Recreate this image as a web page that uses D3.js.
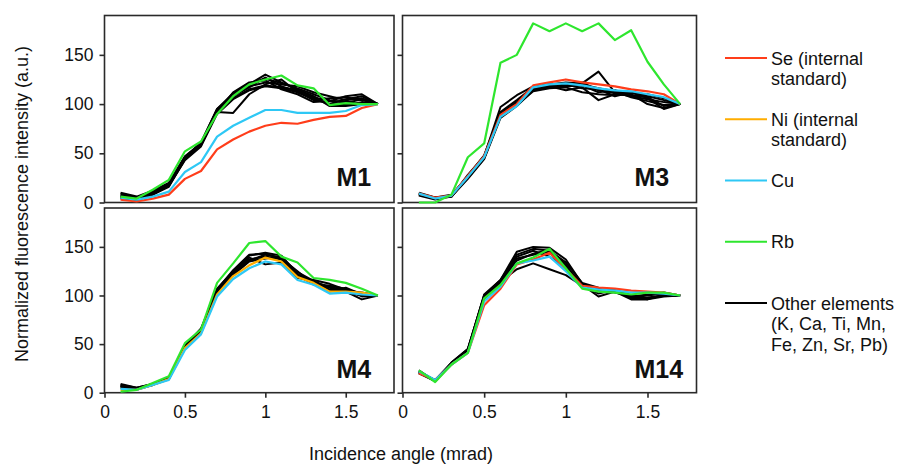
<!DOCTYPE html>
<html>
<head>
<meta charset="utf-8">
<script src="https://cdn.jsdelivr.net/npm/d3@7"></script>
<style>
  body { margin: 0; background: #fff; }
  text { font-family: "Liberation Sans", Arial, sans-serif; fill: #111; }
</style>
</head>
<body>
<svg id="chart" width="899" height="464"></svg>
<script>
// incidence angle (mrad), same for every panel
const angles = [0.1, 0.2, 0.3, 0.4, 0.5, 0.6, 0.7, 0.8, 0.9, 1.0, 1.1, 1.2, 1.3, 1.4, 1.5, 1.6, 1.7];
const xTicks = [0, 0.5, 1, 1.5];
const yTicks = [0, 50, 100, 150];

// M1
const m1Se = [3, 1, 4, 8, 24, 32, 54, 64, 72, 78, 81, 80, 84, 87, 88, 96, 100];
const m1Cu = [5, 3, 6, 11, 31, 41, 67, 78, 86, 94, 94, 91, 91, 91, 93, 99, 100];
const m1Rb = [6, 4, 13, 23, 52, 62, 90, 108, 120, 125, 129, 119, 116, 99, 101, 100, 100];
const m1Others = [
  [10, 6, 12, 20, 47, 60, 94, 110, 120, 130, 122, 115, 108, 98, 98, 100, 100],
  [8, 5, 10, 18, 45, 59, 92, 91, 110, 120, 125, 112, 105, 100, 105, 108, 100],
  [6, 4, 9, 17, 44, 58, 93, 108, 117, 127, 118, 113, 104, 106, 107, 104, 100],
  [5, 3, 8, 16, 44, 58, 92, 112, 122, 124, 115, 110, 102, 103, 103, 99, 100],
  [7, 4, 11, 19, 46, 60, 95, 109, 118, 122, 120, 118, 112, 108, 104, 106, 100],
  [9, 5, 10, 18, 45, 59, 93, 106, 115, 119, 117, 114, 107, 103, 108, 110, 100],
  [4, 2, 8, 17, 43, 57, 90, 105, 114, 118, 116, 112, 106, 100, 99, 102, 100],
  [6, 4, 11, 18, 46, 61, 95, 111, 121, 126, 121, 116, 110, 104, 101, 105, 100]
];

// M3
const m3Se = [9, 5, 7, 27, 47, 89, 100, 119, 122, 125, 122, 120, 118, 115, 113, 110, 100];
const m3Cu = [9, 4, 7, 26, 46, 87, 98, 117, 120, 121, 119, 116, 114, 113, 110, 107, 100];
const m3Rb = [0, 0, 8, 46, 60, 142, 150, 182, 174, 182, 174, 182, 165, 175, 143, 120, 100];
const m3Others = [
  [8, 5, 6, 28, 47, 97, 109, 118, 120, 122, 121, 133, 112, 112, 108, 104, 100],
  [9, 4, 7, 25, 45, 88, 100, 116, 118, 114, 117, 104, 110, 109, 107, 98, 100],
  [10, 5, 6, 26, 46, 90, 102, 115, 119, 118, 119, 112, 114, 110, 100, 96, 100],
  [7, 3, 6, 24, 44, 86, 98, 114, 117, 120, 116, 115, 108, 112, 106, 95, 100],
  [9, 4, 7, 27, 48, 92, 104, 117, 121, 119, 122, 114, 111, 108, 105, 102, 100],
  [8, 5, 8, 26, 46, 89, 99, 113, 116, 117, 112, 110, 109, 111, 110, 106, 100],
  [9, 4, 7, 25, 45, 88, 101, 116, 118, 118, 120, 116, 113, 107, 103, 99, 100]
];

// M4
const m4Ni = [3, 3, 8, 14, 46, 61, 101, 120, 131, 139, 135, 119, 113, 104, 104, 103, 100];
const m4Cu = [4, 3, 8, 13, 44, 60, 99, 117, 128, 135, 132, 116, 111, 102, 103, 101, 100];
const m4Rb = [1, 3, 10, 17, 51, 65, 113, 133, 154, 156, 140, 134, 118, 116, 113, 107, 100];
const m4Others = [
  [9, 5, 9, 15, 47, 64, 107, 125, 141, 144, 141, 122, 114, 106, 104, 96, 100],
  [7, 4, 8, 14, 46, 63, 104, 123, 137, 140, 137, 120, 112, 110, 107, 99, 100],
  [6, 4, 9, 15, 48, 66, 106, 124, 139, 132, 134, 118, 116, 112, 106, 102, 100],
  [8, 5, 9, 14, 47, 64, 105, 122, 136, 142, 139, 124, 115, 108, 103, 100, 100],
  [5, 3, 8, 14, 46, 62, 103, 121, 135, 138, 140, 121, 113, 104, 108, 101, 100],
  [7, 4, 9, 15, 47, 65, 106, 126, 142, 143, 138, 125, 111, 109, 105, 103, 100]
];

// M14
const m14Se = [20, 13, 29, 41, 90, 107, 132, 137, 144, 127, 110, 108, 107, 105, 104, 103, 100];
const m14Cu = [22, 13, 29, 41, 94, 109, 133, 136, 140, 125, 108, 106, 105, 103, 103, 102, 100];
const m14Rb = [23, 11, 29, 41, 97, 111, 133, 139, 148, 128, 107, 104, 103, 101, 103, 103, 100];
const m14Others = [
  [21, 12, 30, 44, 101, 116, 145, 150, 149, 137, 112, 106, 105, 99, 96, 99, 100],
  [22, 13, 31, 45, 100, 115, 142, 148, 146, 134, 113, 108, 106, 100, 97, 100, 100],
  [20, 12, 29, 43, 98, 114, 127, 133, 127, 121, 110, 102, 106, 98, 100, 102, 100],
  [23, 12, 30, 42, 99, 114, 138, 142, 145, 130, 111, 99, 104, 96, 96, 101, 100],
  [21, 13, 30, 44, 97, 113, 136, 143, 147, 132, 109, 105, 103, 99, 101, 103, 100],
  [22, 12, 31, 45, 100, 116, 140, 146, 140, 128, 112, 107, 105, 97, 98, 100, 100]
];

const colors = { Se: '#ff3d1a', Ni: '#ffad00', Cu: '#2ec8f5', Rb: '#2ee62e', Other: '#000000' };

const legendItems = [
  { key: 'Se', lines: ['Se (internal', 'standard)'] },
  { key: 'Ni', lines: ['Ni (internal', 'standard)'] },
  { key: 'Cu', lines: ['Cu'] },
  { key: 'Rb', lines: ['Rb'] },
  { key: 'Other', lines: ['Other elements', '(K, Ca, Ti, Mn,', 'Fe, Zn, Sr, Pb)'] }
];

const panels = [
  { name: 'M1', col: 0, row: 0, others: m1Others, series: [['Se', m1Se], ['Cu', m1Cu], ['Rb', m1Rb]] },
  { name: 'M3', col: 1, row: 0, others: m3Others, series: [['Se', m3Se], ['Cu', m3Cu], ['Rb', m3Rb]] },
  { name: 'M4', col: 0, row: 1, others: m4Others, series: [['Ni', m4Ni], ['Cu', m4Cu], ['Rb', m4Rb]] },
  { name: 'M14', col: 1, row: 1, others: m14Others, series: [['Se', m14Se], ['Cu', m14Cu], ['Rb', m14Rb]] }
];

const svg = d3.select('#chart');

// panel boxes in pixels
const cols = [[104.5, 394], [402.5, 696.5]];
const rows = [[15.5, 202.5], [208, 392.7]];

panels.forEach(p => {
  const [x0, x1] = cols[p.col];
  const [y0, y1] = rows[p.row];
  const x = d3.scaleLinear().domain([0, 1.8]).range([x0, x1]);
  const y = d3.scaleLinear().domain([0, 190]).range([y1, y0]);
  const g = svg.append('g');

  // frame
  g.append('rect')
    .attr('x', x0).attr('y', y0)
    .attr('width', x1 - x0).attr('height', y1 - y0)
    .attr('fill', 'none')
    .attr('stroke', '#2a2a2a')
    .attr('stroke-width', 1.6);

  // y axis, labels only on the left column
  const yAxis = d3.axisLeft(y).tickValues(yTicks).tickSize(5).tickPadding(6)
    .tickFormat(p.col === 0 ? d3.format('d') : '');
  const ya = g.append('g').attr('transform', `translate(${x0},0)`).call(yAxis);
  ya.select('.domain').remove();
  ya.selectAll('line').attr('stroke', '#2a2a2a').attr('stroke-width', 1.6);
  ya.selectAll('text').attr('font-size', 17.5).attr('fill', '#111')
    .attr('font-family', '"Liberation Sans", Arial, sans-serif');

  // x axis only on the bottom row
  if (p.row === 1) {
    const xAxis = d3.axisBottom(x).tickValues(xTicks).tickSize(5).tickPadding(8)
      .tickFormat(d3.format('~g'));
    const xa = g.append('g').attr('transform', `translate(0,${y1})`).call(xAxis);
    xa.select('.domain').remove();
    xa.selectAll('line').attr('stroke', '#2a2a2a').attr('stroke-width', 1.6);
    xa.selectAll('text').attr('font-size', 17.5).attr('fill', '#111')
      .attr('font-family', '"Liberation Sans", Arial, sans-serif');
  }

  const line = d3.line()
    .x((d, i) => x(angles[i]))
    .y(d => y(d));

  g.selectAll('path.other')
    .data(p.others)
    .join('path')
    .attr('class', 'other')
    .attr('d', line)
    .attr('fill', 'none')
    .attr('stroke', colors.Other)
    .attr('stroke-width', 2)
    .attr('stroke-linejoin', 'round');

  g.selectAll('path.elem')
    .data(p.series)
    .join('path')
    .attr('class', 'elem')
    .attr('d', d => line(d[1]))
    .attr('fill', 'none')
    .attr('stroke', d => colors[d[0]])
    .attr('stroke-width', 2.2)
    .attr('stroke-linejoin', 'round');

  g.append('text')
    .attr('x', x0 + 232)
    .attr('y', p.row === 0 ? 186 : 378)
    .attr('font-size', 25)
    .attr('font-weight', 'bold')
    .text(p.name);
});

// axis titles
svg.append('text')
  .attr('x', 401).attr('y', 460)
  .attr('text-anchor', 'middle')
  .attr('font-size', 18)
  .text('Incidence angle (mrad)');

svg.append('text')
  .attr('transform', 'translate(28,204) rotate(-90)')
  .attr('text-anchor', 'middle')
  .attr('font-size', 18)
  .text('Normalized fluorescence intensity (a.u.)');

// legend
const legendY = d3.scalePoint().domain(legendItems.map(d => d.key)).range([58, 303]);
const lg = svg.append('g');
legendItems.forEach(item => {
  const ly = legendY(item.key);
  lg.append('line')
    .attr('x1', 725).attr('x2', 767)
    .attr('y1', ly).attr('y2', ly)
    .attr('stroke', colors[item.key])
    .attr('stroke-width', 2.2);
  const t = lg.append('text')
    .attr('x', 771).attr('y', ly + 6.5)
    .attr('font-size', 18);
  item.lines.forEach((s, i) => {
    t.append('tspan').attr('x', 771).attr('dy', i === 0 ? 0 : 20.7).text(s);
  });
});
</script>
</body>
</html>
